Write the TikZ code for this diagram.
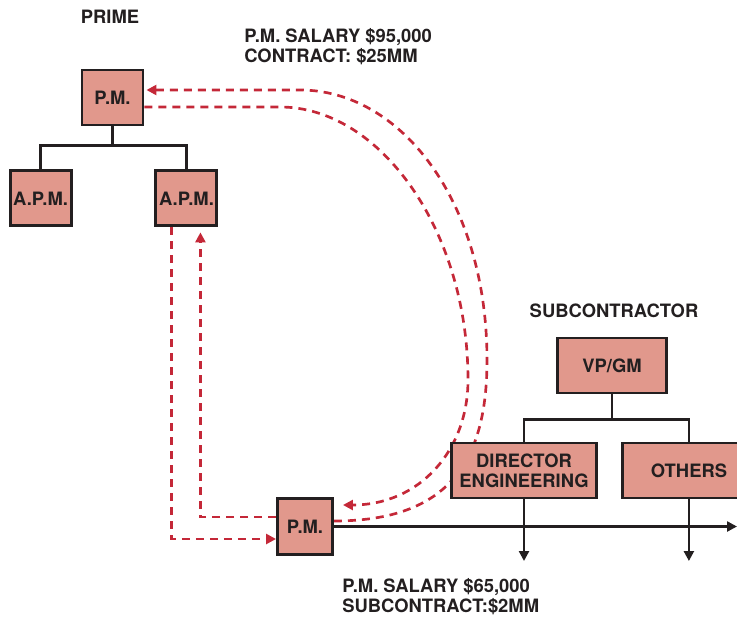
\documentclass[tikz,border=0pt]{standalone}
\usepackage{fontspec}
\setmainfont{TeX Gyre Heros}
\usepackage{xcolor}
\usepackage{tikz}
\usetikzlibrary{arrows.meta, positioning, calc, backgrounds}

\definecolor{boxfill}{RGB}{225,152,140}
\definecolor{ink}{RGB}{35,31,32}
\definecolor{dashred}{RGB}{196,40,56}

\begin{document}
\begin{tikzpicture}[
    x=0.75pt, y=-0.75pt,
    box/.style={rectangle, draw=ink, fill=boxfill, line width=2.2pt, inner sep=0pt, minimum width=45.75pt, minimum height=41.25pt, align=center, text=ink, font=\fontsize{13.8}{15}\selectfont\bfseries},
    lbl/.style={text=ink, align=left, inner sep=0pt, font=\fontsize{13.8}{15}\selectfont\bfseries},
    tree/.style={draw=ink, line width=1.8pt},
    arrow/.style={-{Triangle[length=7.5pt, width=7.5pt]}, line width=1.8pt, draw=ink},
    dasharrow/.style={-{Triangle[length=7.5pt, width=7.5pt]}, line width=2pt, draw=dashred, dash pattern=on 6pt off 4.5pt}
]
\useasboundingbox (0,0) rectangle (737,617);
\clip (0,0) rectangle (737,617);

% Prime side
\node[lbl] (prime) at (110,17) {PRIME};
\node[box] (pmP) at (112.5,97.5) {P.M.};
\node[box, below left=32.25pt and 6pt of pmP] (apmL) {A.P.M.};
\node[box, below right=32.25pt and 7.5pt of pmP] (apmR) {A.P.M.};
\node[lbl, anchor=west] (salP) at (244,47) {P.M. SALARY \$95,000\\CONTRACT: \$25MM};

% Subcontractor side
\node[lbl] (subc) at (614,311) {SUBCONTRACTOR};
\node[box, minimum width=81.75pt] (vpgm) at (612,365.5) {VP/GM};
\node[box, minimum width=108.75pt] (dir) at (524,470.5) {DIRECTOR\\ENGINEERING};
\node[box, minimum width=99pt, right=17.6pt of dir] (oth) {OTHERS};
\node[box, minimum width=41.25pt, minimum height=42pt] (pmS) at (305,526.5) {P.M.};
\node[lbl, anchor=west] (salS) at (342,596.5) {P.M. SALARY \$65,000\\SUBCONTRACT:\$2MM};

% Org lines
\coordinate (pmJoin) at ($(pmP.south)+(0,19)$);
\draw[tree] (pmP.south) -- (pmJoin);
\draw[tree] (pmJoin) -| (apmL.north);
\draw[tree] (pmJoin) -| (apmR.north);

\coordinate (vpJoin) at ($(vpgm.south)+(0,25)$);
\draw[tree] (vpgm.south) -- (vpJoin);
\draw[tree] (vpJoin) -| (dir.north);
\draw[tree] (vpJoin) -| (oth.north);

\coordinate (dirDrop) at (524,561);
\coordinate (othDrop) at (oth.south |- dirDrop);
\coordinate (lineEnd) at (737,526.5);
\draw[arrow] (dir.south) -- (dirDrop);
\draw[arrow] (oth.south) -- (othDrop);
\draw[arrow] (pmS.east) -- (lineEnd);

% Communication paths
\begin{scope}[on background layer]
\draw[dasharrow] ($(apmR.south)+(-15,0)$) |- ($(pmS.west)+(0,12.5)$);
\draw[dasharrow] ($(pmS.west)+(0,-9.5)$) -| ($(apmR.south)+(14,5)$);
\draw[dasharrow] ($(pmS.east)+(0,-5.5)$) .. controls (450,521) and (487,460) .. (487,360)
    .. controls (487,200) and (400,90) .. (300,90) -- ($(pmP.east)+(2,-7.5)$);
\draw[dasharrow] ($(pmP.east)+(0,9.5)$) -- (280,107) .. controls (380,107) and (468,230) .. (468,380)
    .. controls (468,450) and (420,505) .. ($(pmS.east)+(9,-21.5)$);
\end{scope}

\end{tikzpicture}
\end{document}
